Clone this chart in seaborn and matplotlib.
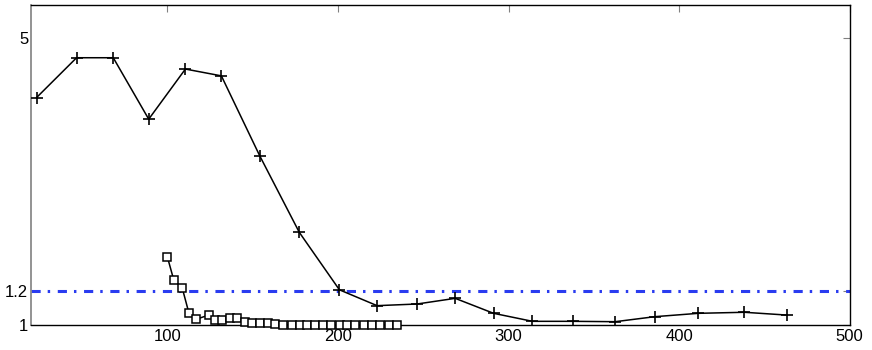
import numpy as np
import matplotlib
matplotlib.use("Agg")
import matplotlib.pyplot as plt
import seaborn as sns

# values
plus_x = [23.2, 46.7, 68.2, 89.0, 110.5, 131.6, 154.1, 177.3, 200.8, 222.9,
          246.3, 268.7, 291.2, 314.0, 337.5, 362.5, 385.9, 411.3, 438.3, 463.1]
plus_y = [3.55, 4.46, 4.46, 3.14, 4.18, 4.02, 2.55, 1.66, 1.21, 1.11,
          1.12, 1.155, 1.065, 1.02, 1.02, 1.018, 1.046, 1.065, 1.071, 1.055]

square_x = [100.0, 103.7, 108.6, 112.5, 116.7, 124.2, 128.1, 132.2, 136.9, 141.0,
            145.7, 149.6, 154.5, 158.8, 163.3, 168.0, 173.1, 177.5, 181.9, 186.3,
            191.2, 196.1, 201.0, 205.3, 210.2, 215.0, 219.9, 224.8, 229.7, 234.6]
square_y = [1.446, 1.276, 1.224, 1.069, 1.031, 1.055, 1.027, 1.027, 1.037, 1.037,
            1.018, 1.009, 1.009, 1.009, 1.003, 1.002, 1.0, 1.0, 1.0, 1.0,
            1.0, 1.0, 1.0, 1.0, 1.0, 1.0, 1.0, 1.0, 1.0, 1.0]

threshold = 1.2
x_ticks = [100, 200, 300, 400, 500]
y_ticks = [1, 1.2, 5]
y_tick_labels = ["1", "1.2", "5"]

sns.set_style("white")
plt.rcParams['font.family'] = ['Liberation Sans', 'DejaVu Sans']

fig = plt.figure(figsize=(8.72, 3.5), dpi=100)
ax = fig.add_axes([0.0356, 0.0714, 0.9388, 0.9152])

# slightly shifted log axis, as in the original
offset = 0.08
ax.set_yscale('function', functions=(lambda v: np.log10(np.maximum(v - offset, 1e-6)),
                                     lambda v: 10 ** v + offset))

ax.axhline(threshold, color='#2a3cf0', lw=2.2, zorder=1,
           linestyle=(0, (3.0, 2.3, 0.8, 2.5)))

sns.lineplot(x=plus_x, y=plus_y, ax=ax, color='black', lw=1.1, marker='+',
             markersize=8, markeredgewidth=1.2, markeredgecolor='black', zorder=3)
sns.lineplot(x=square_x, y=square_y, ax=ax, color='black', lw=1.1, marker='s',
             markersize=6, markerfacecolor='white', markeredgecolor='black',
             markeredgewidth=1.1, zorder=4, clip_on=False)

ax.set_xlim(20, 500)
ax.set_ylim(1, 6.05)
ax.set_xticks(x_ticks)
ax.set_xticklabels([str(t) for t in x_ticks])
ax.set_yticks(y_ticks)
ax.set_yticklabels(y_tick_labels)
ax.yaxis.set_minor_locator(matplotlib.ticker.NullLocator())

ax.tick_params(direction='in', length=5, width=0.8, color='#808080',
               top=True, right=True, labelsize=12, labelcolor='black', pad=3)
ax.tick_params(axis='y', pad=2)

for side in ['top', 'right', 'bottom']:
    ax.spines[side].set_color('black')
    ax.spines[side].set_linewidth(1.0)
ax.spines['left'].set_color('#808080')
ax.spines['left'].set_linewidth(1.2)

ax.set_xlabel('')
ax.set_ylabel('')

fig.savefig('out.png', dpi=100)
